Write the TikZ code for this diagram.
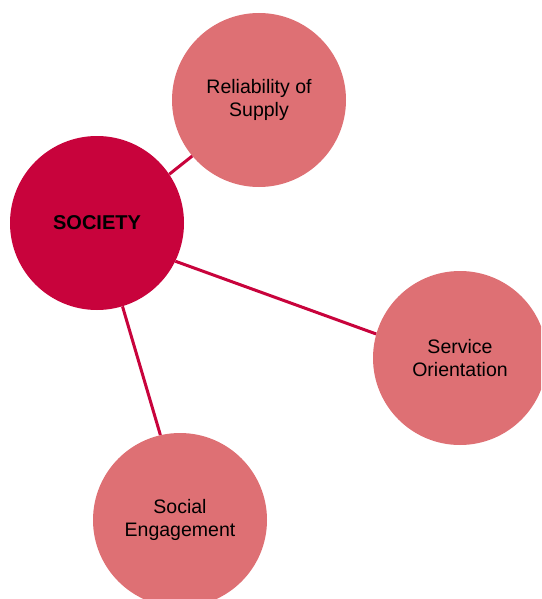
\documentclass[tikz,border=0pt]{standalone}
\usepackage{fontspec}
\setmainfont{Liberation Sans}
\definecolor{socred}{HTML}{C8033C}
\definecolor{subred}{HTML}{DE7074}
\begin{document}
\begin{tikzpicture}[x=1pt,y=-1pt,
  bubble/.style={circle, minimum size=174pt, inner sep=0pt, align=center,
    font=\fontsize{19.5}{23}\selectfont, text=black},
  mainbubble/.style={bubble, fill=socred, font=\fontsize{20}{23}\selectfont\bfseries},
  subbubble/.style={bubble, fill=subred},
  link/.style={draw=socred, line width=3pt}]
\useasboundingbox (0,0) rectangle (541,599);
\clip (0,0) rectangle (541,599);
\node[mainbubble] (soc) at (97,223) {SOCIETY};
\node[subbubble] (rel) at (259,100) {Reliability of\\Supply};
\node[subbubble] (ser) at (460,358) {Service\\Orientation};
\node[subbubble] (soe) at (180,520) {Social\\Engagement};
\draw[link] (soc.34) -- (rel.220.3);
\draw[link] (soc.-26.4) -- (ser.164.1);
\draw[link] (soc.-73.2) -- (soe.103.3);
\end{tikzpicture}
\end{document}
